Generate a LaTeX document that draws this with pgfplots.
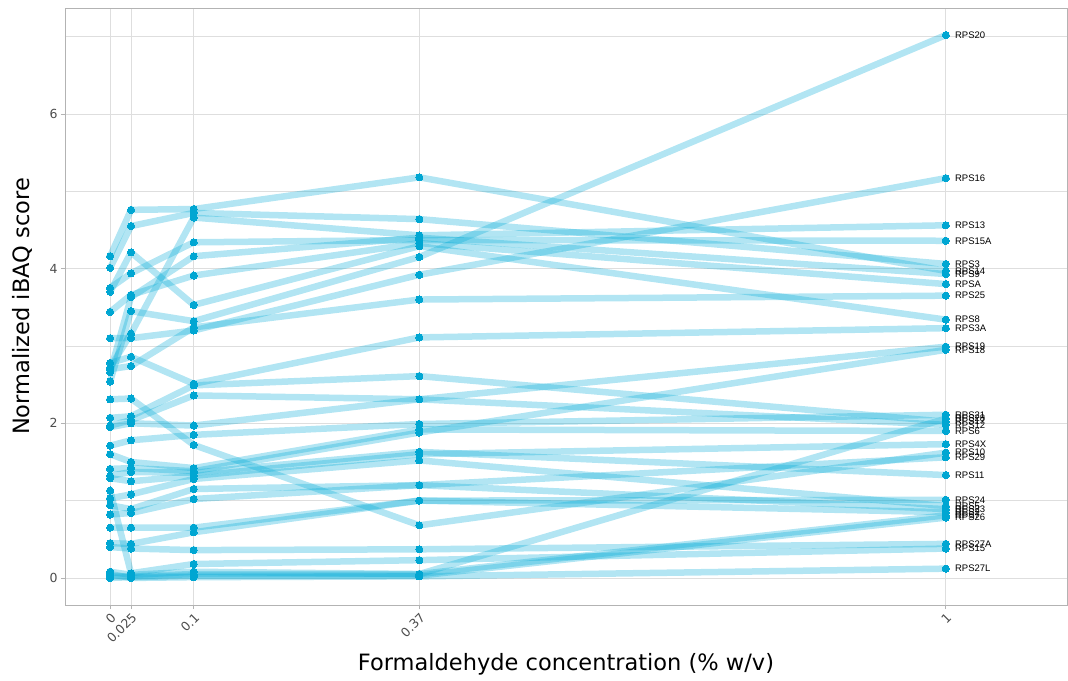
\documentclass[border=0pt]{standalone}
\usepackage{pgfplots}
\pgfplotsset{compat=1.18}
\usepackage{pgfplotstable}
\usepackage{fontspec}
\setmainfont{DejaVu Sans}
\newfontfamily\lab{Liberation Sans}
\definecolor{ptc}{HTML}{00A6D2}
\definecolor{lnc}{HTML}{00AAD6}
\definecolor{gridc}{HTML}{DEDEDE}
\definecolor{bord}{HTML}{B3B3B3}
\definecolor{tickc}{HTML}{4D4D4D}

\pgfplotstableread{
x RPS20 RPS16 RPS13 RPS15A RPS3 RPS14 RPS9 RPSA RPS25 RPS8 RPS3A RPS19 RPS18 RPS21 RPS28 RPS17 RPS12 RPS6 RPS4X RPS10 RPS29 RPS11 RPS24 RPS5 RPS23 RPS2 RPS7 RPS26 RPS27A RPS15 RPS27L
0     2.54 3.10 2.72 3.75 4.01 4.16 2.66 3.44 2.70 3.70 2.78 1.97 1.41 1.71 0.08 2.07 1.95 1.60 1.29 2.31 0.82 1.32 0.65 1.03 0.94 0.45 0.02 0.00 0.40 1.13 0.05
0.025 3.45 3.10 3.16 3.94 4.55 4.76 3.63 3.66 2.74 4.21 2.86 2.04 1.42 1.78 0.04 2.09 2.00 1.50 1.25 2.32 0.84 1.37 0.65 1.08 0.89 0.44 0.02 0.01 0.38 0.06 0.00
0.1   3.32 3.20 4.66 4.34 4.72 4.77 4.16 3.91 3.24 3.53 2.51 2.36 1.38 1.85 0.08 2.49 1.97 1.42 1.32 1.72 1.02 1.36 0.65 1.28 1.15 0.59 0.05 0.03 0.36 0.18 0.01
0.37  4.15 3.92 4.43 4.37 4.64 5.18 4.40 4.33 3.60 4.29 3.11 2.31 1.88 1.99 0.05 2.61 2.31 1.92 1.60 0.68 1.20 1.63 1.00 1.52 1.20 1.00 0.05 0.03 0.37 0.23 0.02
1     7.02 5.17 4.56 4.36 4.06 3.97 3.93 3.80 3.65 3.34 3.23 2.99 2.95 2.11 2.06 2.02 1.98 1.90 1.73 1.62 1.56 1.33 1.01 0.93 0.89 0.85 0.81 0.78 0.44 0.38 0.12
}\data

\begin{document}
\begin{tikzpicture}
\useasboundingbox (-65pt,-75pt) rectangle (1003pt,605pt);
\begin{axis}[
  at={(0,0)}, anchor=south west,
  scale only axis, width=1002pt, height=597pt,
  xmin=-0.054, xmax=1.145, ymin=-0.35, ymax=7.37,
  axis line style={bord, line width=0.8pt},
  xtick={0,0.025,0.1,0.37,1}, xticklabels={0,0.025,0.1,0.37,1},
  ytick={0,2,4,6}, minor ytick={1,3,5,7},
  grid=both,
  major grid style={gridc, line width=0.8pt},
  minor grid style={gridc, line width=0.5pt},
  tick pos=left, tick align=outside,
  major tick length=4pt, minor tick length=0pt,
  tick style={bord, line width=0.8pt},
  /pgf/number format/assume math mode=true,
  x tick label style={rotate=45, anchor=north east, font=\fontsize{12.5}{13}\selectfont, text=tickc, inner sep=2pt},
  y tick label style={font=\fontsize{12.5}{13}\selectfont, text=tickc},
  xlabel={Formaldehyde concentration (\% w/v)},
  ylabel={Normalized iBAQ score},
  xlabel style={font=\fontsize{22.5}{24}\selectfont, at={(axis description cs:0.5,-0.0988)}, anchor=center},
  ylabel style={font=\fontsize{22.5}{24}\selectfont, at={(axis description cs:-0.0429,0.5)}, anchor=center},
]
\pgfplotsinvokeforeach{RPS20,RPS16,RPS13,RPS15A,RPS3,RPS14,RPS9,RPSA,RPS25,RPS8,RPS3A,RPS19,RPS18,RPS21,RPS28,RPS17,RPS12,RPS6,RPS4X,RPS10,RPS29,RPS11,RPS24,RPS5,RPS23,RPS2,RPS7,RPS26,RPS27A,RPS15,RPS27L}{
  \addplot[lnc, draw opacity=0.3, line width=6.5pt, line join=round, no markers] table[x=x,y=#1]{\data}
    node[pos=1, anchor=west, xshift=5pt, text=black, font=\lab\fontsize{9.5}{10}\selectfont, inner sep=1pt]{#1};
}
\pgfplotsinvokeforeach{RPS20,RPS16,RPS13,RPS15A,RPS3,RPS14,RPS9,RPSA,RPS25,RPS8,RPS3A,RPS19,RPS18,RPS21,RPS28,RPS17,RPS12,RPS6,RPS4X,RPS10,RPS29,RPS11,RPS24,RPS5,RPS23,RPS2,RPS7,RPS26,RPS27A,RPS15,RPS27L}{
  \addplot[ptc, only marks, mark=*, mark size=3.6pt, mark options={fill=ptc, draw=ptc, line width=0pt}] table[x=x,y=#1]{\data};
}
\end{axis}
\end{tikzpicture}
\end{document}
